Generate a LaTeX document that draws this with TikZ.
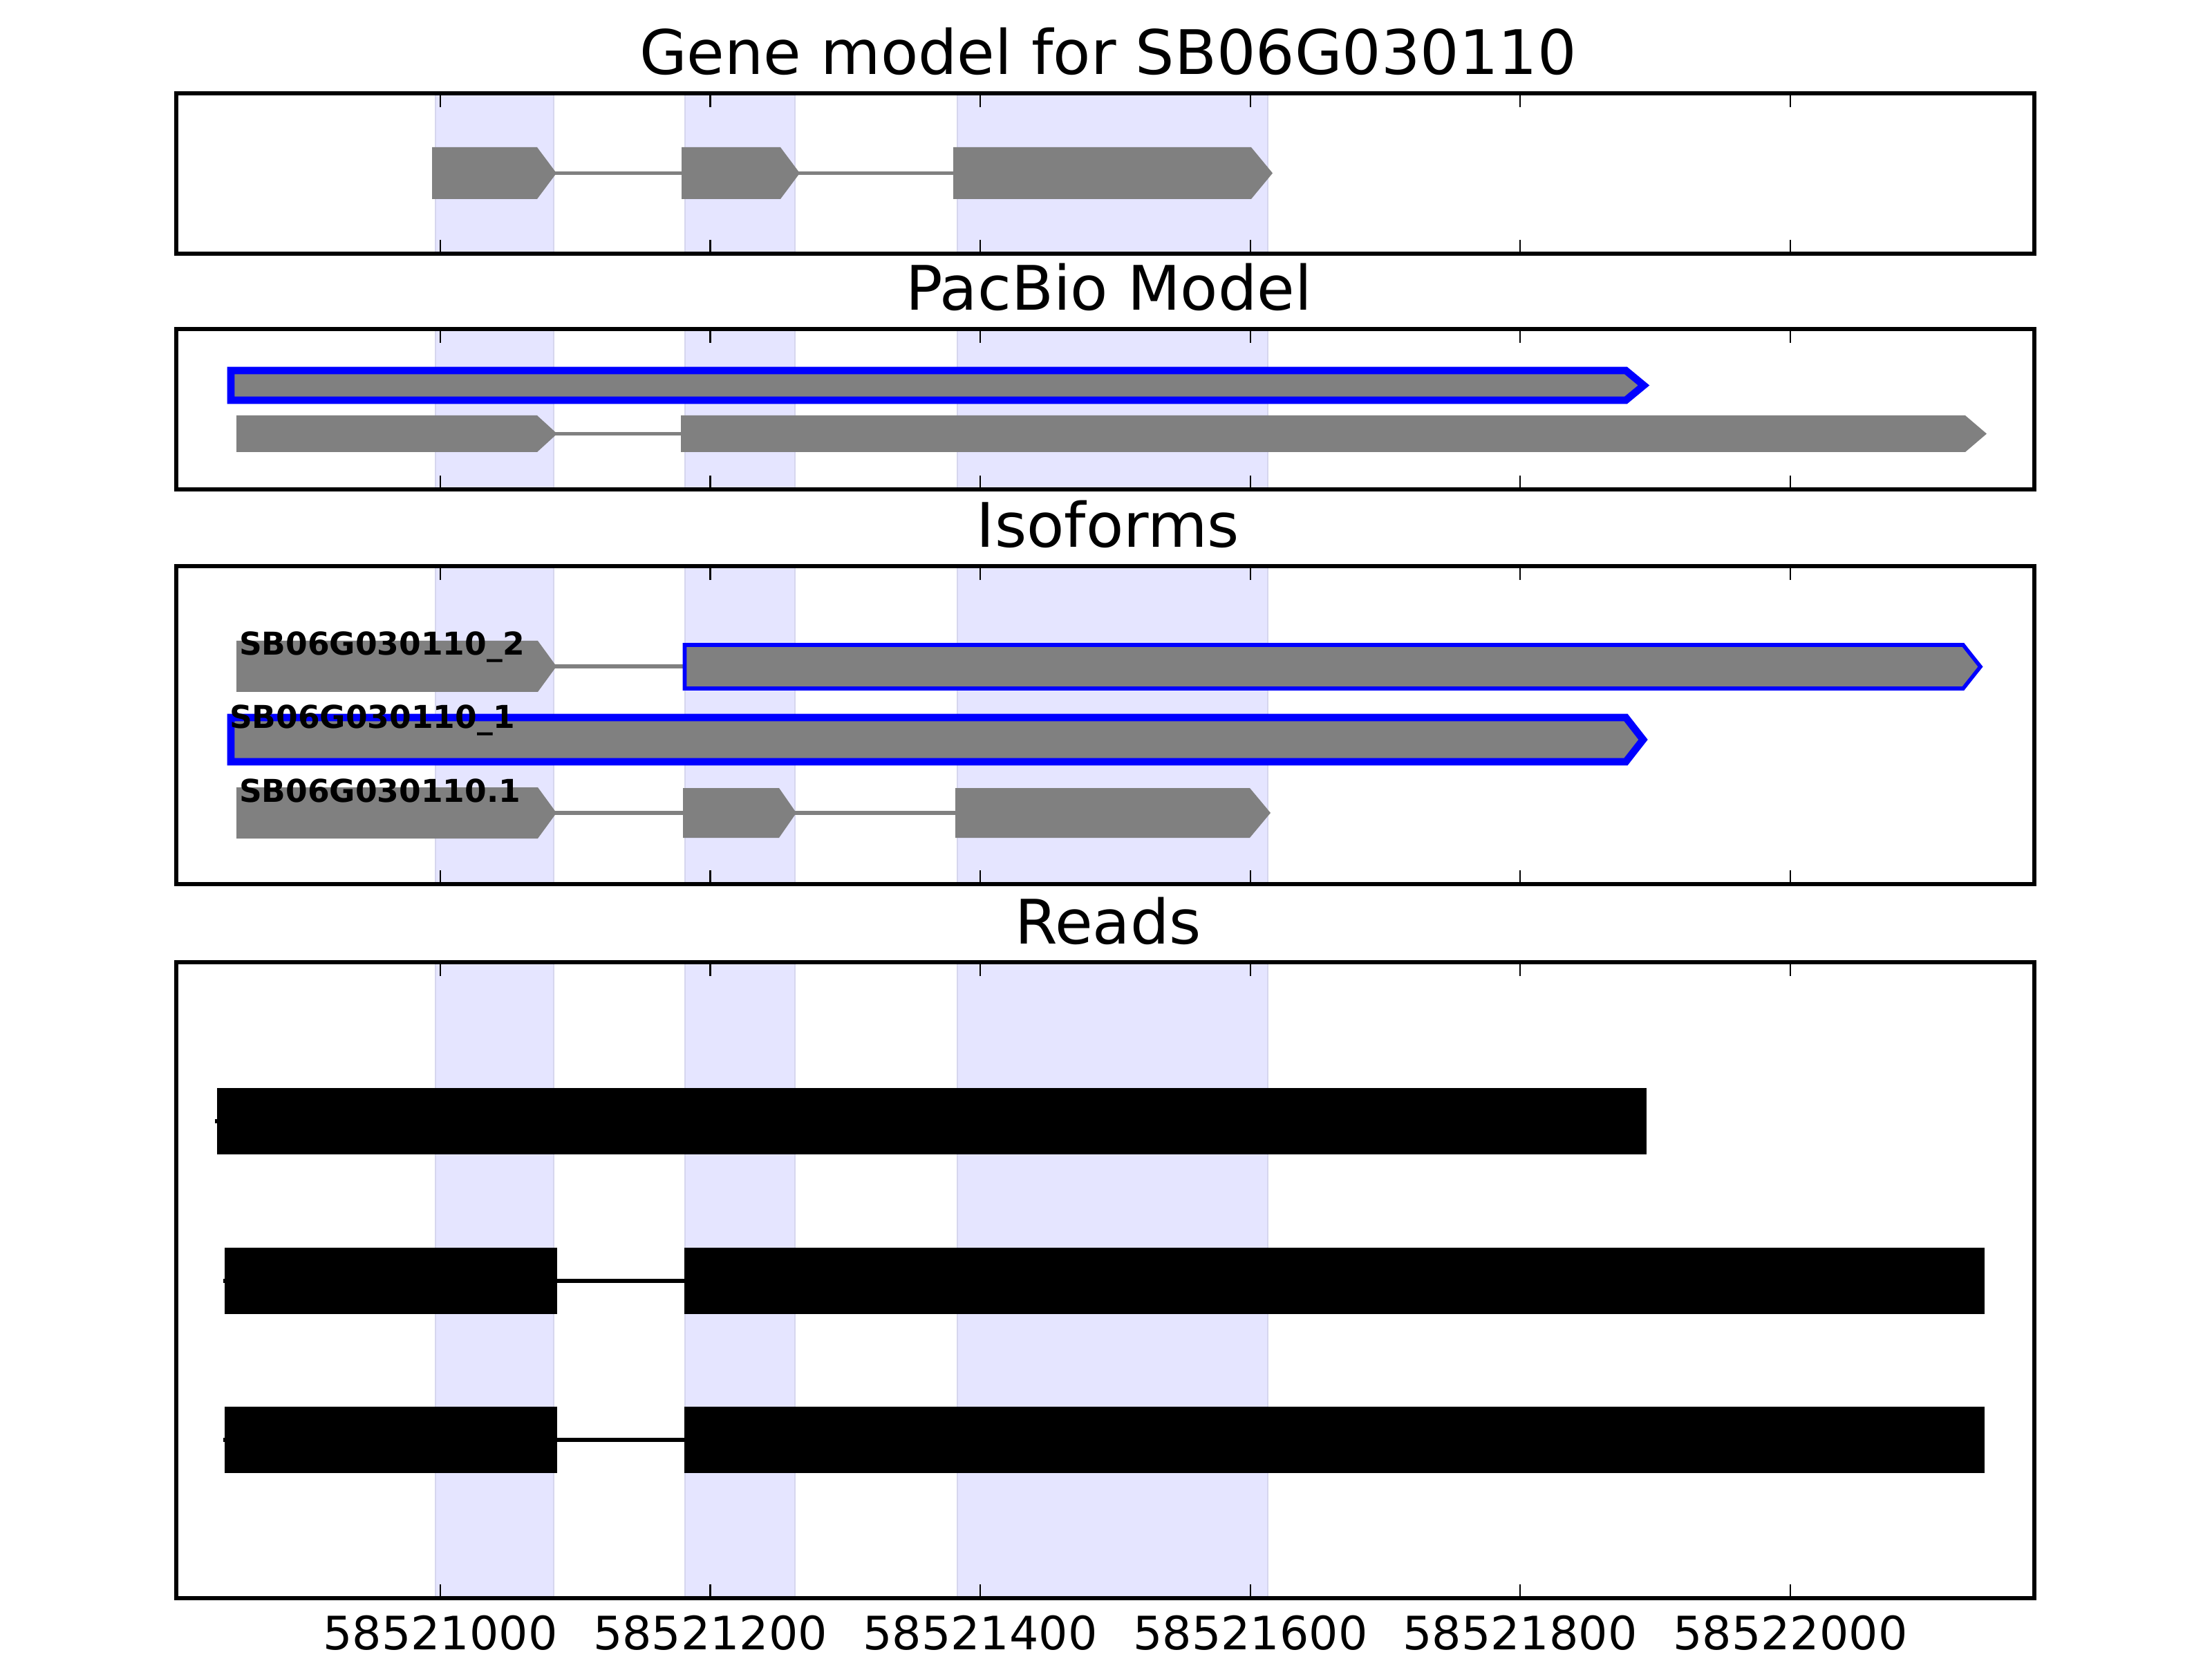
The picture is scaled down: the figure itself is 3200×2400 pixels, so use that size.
\documentclass[tikz,border=0pt]{standalone}
\usepackage{fontspec}
\setmainfont{DejaVu Sans}
\definecolor{shade}{RGB}{229,229,255}
\definecolor{shadeedge}{RGB}{214,214,238}
\definecolor{exongray}{RGB}{128,128,128}
\definecolor{pureblue}{RGB}{0,0,255}
\tikzset{
  axframe/.style={line width=1bp, draw=black},
  tickmark/.style={line width=0.5bp, draw=black},
  vspan/.style={fill=shade, draw=shadeedge, line width=0.5bp},
  exonbox/.style={fill=exongray},
  intronline/.style={draw=exongray, line width=1bp},
  selthin/.style={fill=exongray, draw=pureblue, line width=1bp, line join=miter},
  selthick/.style={fill=exongray, draw=pureblue, line width=1.9bp, line join=miter},
  readblock/.style={fill=black},
  readline/.style={draw=black, line width=1bp},
  ptitle/.style={font=\fontsize{16bp}{19bp}\selectfont, anchor=base, inner sep=0pt},
  ticklab/.style={font=\fontsize{12bp}{14bp}\selectfont, anchor=base, inner sep=0pt},
  isolab/.style={font=\fontsize{8.2bp}{10bp}\selectfont\bfseries, anchor=base west, inner sep=0pt},
}
% #1 style, #2 left, #3 start of head, #4 tip, #5 top, #6 bottom
\newcommand{\arrowbox}[6]{%
  \path[#1] (#2,#5) -- (#3,#5) -- (#4,{(#5+#6)/2}) -- (#3,#6) -- (#2,#6) -- cycle;}
\begin{document}
\begin{tikzpicture}[x=0.0025in,y=-0.0025in]
\useasboundingbox (0,0) rectangle (3200,2400);
\fill[white] (0,0) rectangle (3200,2400);

% shaded exon regions
\foreach \t/\b in {135/367, 476/708, 819/1279, 1392/2312} {
  \path[vspan] (630,\t) rectangle (801,\b);
  \path[vspan] (991,\t) rectangle (1150,\b);
  \path[vspan] (1385,\t) rectangle (1834,\b);
}

% titles
\node[ptitle] (title1) at (1603,108) {Gene model for SB06G030110};
\node[ptitle] (title2) at (1604,449) {PacBio Model};
\node[ptitle] (title3) at (1603,791) {Isoforms};
\node[ptitle] (title4) at (1603,1365) {Reads};

% panel 1: gene model
\draw[intronline] (625,250.5) -- (1379,250.5);
\arrowbox{exonbox}{625}{777}{805}{213}{288}
\arrowbox{exonbox}{986}{1129}{1157}{213}{288}
\arrowbox{exonbox}{1379}{1810}{1841}{213}{288}

% panel 2: PacBio model
\arrowbox{selthick}{334}{2352}{2378}{536}{579}
\draw[intronline] (342,627.5) -- (985,627.5);
\arrowbox{exonbox}{342}{777}{806}{601}{654}
\arrowbox{exonbox}{985}{2843}{2874}{601}{654}

% panel 3: isoforms
\draw[intronline] (342,964) -- (990,964);
\arrowbox{exonbox}{342}{778}{805}{927}{1001}
\arrowbox{selthin}{990.5}{2840}{2865}{933}{996}
\arrowbox{selthick}{334}{2352}{2377}{1038}{1102}
\draw[intronline] (342,1176) -- (1382,1176);
\arrowbox{exonbox}{342}{778}{805}{1139}{1213}
\arrowbox{exonbox}{988}{1127}{1152}{1140}{1212}
\arrowbox{exonbox}{1382}{1808}{1838}{1140}{1212}
\node[isolab] (iso2) at (345,947) {SB06G030110\textunderscore 2};
\node[isolab] (iso1) at (331,1054) {SB06G030110\textunderscore 1};
\node[isolab] (iso0) at (345,1160) {SB06G030110.1};

% panel 4: reads
\draw[readline] (311,1622) -- (2382,1622);
\path[readblock] (314,1574) rectangle (2382,1670);
\draw[readline] (323,1853) -- (2871,1853);
\path[readblock] (325,1805) rectangle (806,1901);
\path[readblock] (990,1805) rectangle (2871,1901);
\draw[readline] (323,2083) -- (2871,2083);
\path[readblock] (325,2035) rectangle (806,2131);
\path[readblock] (990,2035) rectangle (2871,2131);

% ticks and frames
\foreach \t/\b in {135/367, 476/708, 819/1279, 1392/2312} {
  \foreach \x in {637,1027.5,1418,1809,2199,2590} {
    \draw[tickmark] (\x,\t) -- (\x,{\t+20});
    \draw[tickmark] (\x,\b) -- (\x,{\b-20});
  }
  \draw[axframe] (255,\t) rectangle (2943,\b);
}

% tick labels
\node[ticklab] (tl1) at (637,2386) {58521000};
\node[ticklab] (tl2) at (1027.5,2386) {58521200};
\node[ticklab] (tl3) at (1418,2386) {58521400};
\node[ticklab] (tl4) at (1809,2386) {58521600};
\node[ticklab] (tl5) at (2199,2386) {58521800};
\node[ticklab] (tl6) at (2590,2386) {58522000};
\end{tikzpicture}
\end{document}
